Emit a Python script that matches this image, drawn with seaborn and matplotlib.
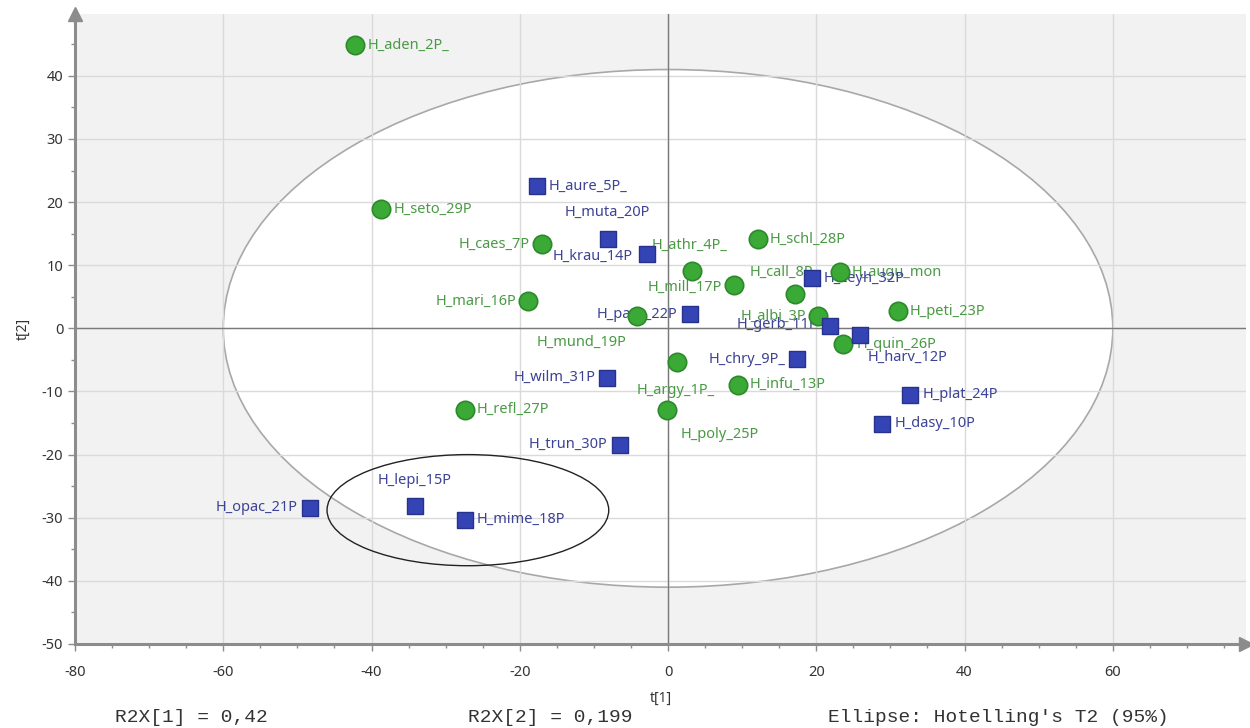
import pandas as pd
import matplotlib.pyplot as plt
import seaborn as sns
from matplotlib.patches import Ellipse
from matplotlib.ticker import MultipleLocator

# Score values
names = ['H_argy_1P_', 'H_aden_2P_', 'H_albi_3P', 'H_athr_4P_', 'H_aure_5P_', 'H_augu_mon',
         'H_caes_7P', 'H_call_8P', 'H_chry_9P_', 'H_dasy_10P', 'H_gerb_11P', 'H_harv_12P',
         'H_infu_13P', 'H_krau_14P', 'H_lepi_15P', 'H_mari_16P', 'H_mill_17P', 'H_mime_18P',
         'H_mund_19P', 'H_muta_20P', 'H_opac_21P', 'H_patu_22P', 'H_peti_23P', 'H_plat_24P',
         'H_poly_25P', 'H_quin_26P', 'H_refl_27P', 'H_schl_28P', 'H_seto_29P', 'H_trun_30P',
         'H_wilm_31P', 'H_zeyh_32P']
t1 = [1.2, -42.2, 20.2, 3.2, -17.7, 23.2,
      -17.0, 17.1, 17.4, 28.9, 21.9, 25.9,
      9.4, -2.8, -34.1, -18.9, 8.9, -27.4,
      -4.2, -8.1, -48.3, 3.0, 31.0, 32.7,
      -0.1, 23.6, -27.4, 12.1, -38.7, -6.5,
      -8.2, 19.4]
t2 = [-5.4, 44.9, 1.9, 9.1, 22.5, 8.9,
      13.3, 5.4, -4.9, -15.1, 0.3, -1.0,
      -8.9, 11.7, -28.1, 4.3, 6.8, -30.3,
      1.9, 14.1, -28.4, 2.2, 2.7, -10.5,
      -12.9, -2.5, -12.9, 14.1, 18.9, -18.4,
      -7.8, 7.9]
groups = ['A', 'A', 'A', 'A', 'B', 'A',
          'A', 'A', 'B', 'B', 'B', 'B',
          'A', 'B', 'B', 'A', 'A', 'B',
          'A', 'B', 'B', 'B', 'A', 'B',
          'A', 'A', 'A', 'A', 'A', 'B',
          'B', 'B']

# Label placement (pixels from the point), default is to the right
label_place = {
    'H_caes_7P': ('right', -12, 0), 'H_mari_16P': ('right', -12, 0),
    'H_athr_4P_': ('center', -2, 26), 'H_mill_17P': ('right', -12, -2),
    'H_call_8P': ('center', -13, 22), 'H_albi_3P': ('right', -12, 0),
    'H_quin_26P': ('left', 14, 0), 'H_argy_1P_': ('center', -1, -28),
    'H_poly_25P': ('left', 13, -25), 'H_mund_19P': ('right', -10, -26),
    'H_muta_20P': ('center', -1, 27), 'H_krau_14P': ('right', -15, -2),
    'H_patu_22P': ('right', -13, 0), 'H_gerb_11P': ('right', -12, 2),
    'H_harv_12P': ('left', 8, -23), 'H_chry_9P_': ('right', -12, 0),
    'H_wilm_31P': ('right', -12, 0), 'H_trun_30P': ('right', -12, 0),
    'H_lepi_15P': ('center', -1, 25), 'H_opac_21P': ('right', -12, 0),
}

df = pd.DataFrame({'name': names, 't1': t1, 't2': t2, 'group': groups})

sns.set_style('white')
plt.rcParams['font.family'] = ['Noto Sans', 'DejaVu Sans']
plt.rcParams['axes.unicode_minus'] = False

fig = plt.figure(figsize=(12.5, 7.28), dpi=100)
ax = fig.add_axes([0.06, 0.1154, 0.937, 0.8654])
ax.set_facecolor('#f2f2f2')

# Hotelling T2 ellipse and the small group ellipse
ax.add_patch(Ellipse((0, 0), 120, 82, facecolor='white', edgecolor='#a8a8a8', lw=1.2, zorder=0.2))
ax.add_patch(Ellipse((-27, -28.8), 38, 17.6, facecolor='none', edgecolor='#222222', lw=1.0, zorder=1.8))

ax.axhline(0, color='#7a7a7a', lw=1, zorder=0.6)
ax.axvline(0, color='#7a7a7a', lw=1, zorder=0.6)

green = df[df['group'] == 'A']
blue = df[df['group'] == 'B']
sns.scatterplot(data=green, x='t1', y='t2', marker='o', s=175, color='#3aa935',
                edgecolor='#2d8a2b', linewidth=1.2, zorder=3, ax=ax)
sns.scatterplot(data=blue, x='t1', y='t2', marker='s', s=135, color='#3444b4',
                edgecolor='#27328c', linewidth=1.0, zorder=3, ax=ax)

for _, row in df.iterrows():
    ha, dx, dy = label_place.get(row['name'], ('left', 12, 0))
    col = '#4a9a45' if row['group'] == 'A' else '#3c4295'
    ax.annotate(row['name'], (row['t1'], row['t2']), xytext=(dx, dy), textcoords='offset pixels',
                ha=ha, va='center', fontsize=10.5, color=col, zorder=2)

ax.set_xlim(-80, 78)
ax.set_ylim(-50, 49.8)
ax.xaxis.set_major_locator(MultipleLocator(20))
ax.xaxis.set_minor_locator(MultipleLocator(5))
ax.yaxis.set_major_locator(MultipleLocator(10))
ax.yaxis.set_minor_locator(MultipleLocator(5))
ax.grid(which='major', color='#dadada', lw=1)
ax.set_axisbelow(True)

for side in ['top', 'right']:
    ax.spines[side].set_visible(False)
for side in ['left', 'bottom']:
    ax.spines[side].set_color('#8c8c8c')
    ax.spines[side].set_linewidth(2.2)
ax.tick_params(which='major', direction='out', length=5, width=1, color='#8c8c8c',
               labelsize=10.5, labelcolor='#333333', left=True, bottom=True)
ax.tick_params(axis='x', which='major', pad=10)
ax.tick_params(which='minor', direction='out', length=3, width=1, color='#8c8c8c',
               left=True, bottom=True)
ax.plot(0, 1, marker='^', ms=10, color='#8c8c8c', transform=ax.transAxes, clip_on=False)
ax.plot(1, 0, marker='>', ms=10, color='#8c8c8c', transform=ax.transAxes, clip_on=False)

ax.set_xlabel('t[1]', fontsize=10, color='#333333', labelpad=8)
ax.set_ylabel('t[2]', fontsize=10, color='#333333', labelpad=8)

mono = ['Liberation Mono', 'DejaVu Sans Mono']
fig.text(0.092, 0.015, 'R2X[1] = 0,42', family=mono, fontsize=14, color='#333333', va='center')
fig.text(0.374, 0.015, 'R2X[2] = 0,199', family=mono, fontsize=14, color='#333333', va='center')
fig.text(0.662, 0.015, "Ellipse: Hotelling's T2 (95%)", family=mono, fontsize=14, color='#333333', va='center')

fig.savefig('out.png', dpi=100)
